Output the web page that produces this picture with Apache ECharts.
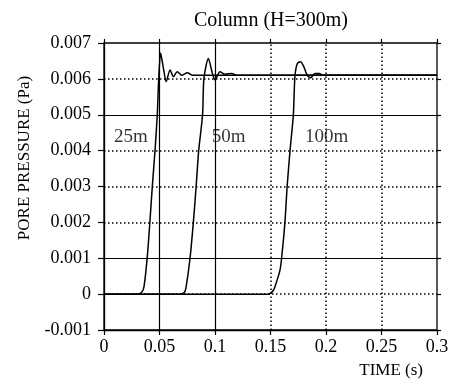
<!DOCTYPE html>
<html>
<head>
<meta charset="utf-8">
<script src="https://cdn.jsdelivr.net/npm/echarts@6/dist/echarts.min.js"></script>
<style>
  html, body { margin: 0; padding: 0; background: #fff; }
  #chart { width: 453px; height: 388px; }
</style>
</head>
<body>
<div id="chart"></div>
<script>
// pore pressure curves at three depths
var t25 = [0, 0.030, 0.034, 0.036, 0.039, 0.0414, 0.0435, 0.046, 0.048, 0.0493, 0.051, 0.0535, 0.056, 0.0595, 0.0625, 0.066, 0.070, 0.075, 0.080, 0.3];
var p25 = [0, 0, 0.00005, 0.0002, 0.00104, 0.00204, 0.00299, 0.00402, 0.005, 0.006, 0.00672, 0.0063, 0.00592, 0.00625, 0.00606, 0.0062, 0.0061, 0.00617, 0.0061, 0.0061];

var t50 = [0, 0.068, 0.0725, 0.074, 0.0775, 0.0805, 0.083, 0.0853, 0.0888, 0.090, 0.094, 0.0976, 0.100, 0.1045, 0.109, 0.115, 0.120, 0.3];
var p50 = [0, 0, 0.00005, 0.0002, 0.001, 0.002, 0.003, 0.004, 0.005, 0.006, 0.00657, 0.00616, 0.00597, 0.0062, 0.00613, 0.00615, 0.0061, 0.0061];

var t100 = [0, 0.148, 0.1525, 0.155, 0.1585, 0.160, 0.163, 0.165, 0.1676, 0.1706, 0.172, 0.1742, 0.1771, 0.180, 0.183, 0.1862, 0.190, 0.194, 0.197, 0.3];
var p100 = [0, 0, 0.0001, 0.0003, 0.00066, 0.001, 0.002, 0.003, 0.004, 0.005, 0.00607, 0.00643, 0.00648, 0.00634, 0.0061, 0.00603, 0.00615, 0.00615, 0.0061, 0.0061];

// curve labels
var labelNames = ['25m', '50m', '100m'];
var labelT = [0.0243, 0.1123, 0.2006];
var labelP = [0.00438, 0.00438, 0.00438];

// grid lines: solid ones vs dotted ones
var xSolid = [0.05, 0.1];
var xDotted = [0.15, 0.2, 0.25];
var ySolid = [0.005, 0.001];
var yDotted = [0.006, 0.004, 0.003, 0.002, 0];

var xMin = 0, xMax = 0.3, yMin = -0.001, yMax = 0.007;

var font = '"Liberation Serif", "Times New Roman", serif';

function zip(t, p) {
    return t.map(function (v, i) { return [v, p[i]]; });
}

var solidLine = { color: '#000', type: 'solid', width: 1.2 };
var dotLine = { color: '#000', type: [1.5, 2.5], width: 1.5 };
var gridLines = [];
function vLine(v, st) { gridLines.push([{ coord: [v, yMin], lineStyle: st }, { coord: [v, yMax] }]); }
function hLine(v, st) { gridLines.push([{ coord: [xMin, v], lineStyle: st }, { coord: [xMax, v] }]); }
xSolid.forEach(function (v) { vLine(v, solidLine); });
xDotted.forEach(function (v) { vLine(v, dotLine); });
ySolid.forEach(function (v) { hLine(v, solidLine); });
yDotted.forEach(function (v) { hLine(v, dotLine); });

var curveStyle = { color: '#000', width: 1.5 };

var option = {
    animation: false,
    backgroundColor: '#fff',
    title: {
        text: 'Column (H=300m)',
        left: 266,
        top: 6,
        textAlign: 'center',
        textStyle: { fontFamily: font, fontSize: 20, fontWeight: 'normal', color: '#000' }
    },
    grid: {
        left: 104, right: 16, top: 43, bottom: 58,
        outerBoundsMode: 'none',
        containLabel: false,
        show: true, borderColor: '#000', borderWidth: 1.3
    },
    xAxis: [{
        type: 'value',
        min: xMin, max: xMax, interval: 0.05,
        axisLine: { onZero: false, lineStyle: { color: '#000', width: 1.3 } },
        axisTick: { length: 5, lineStyle: { color: '#000', width: 1.2 } },
        axisLabel: { fontFamily: font, fontSize: 18, color: '#000', margin: 8 },
        splitLine: { show: false }
    }, {
        type: 'value', position: 'top',
        min: xMin, max: xMax, interval: 0.05,
        axisLine: { show: false, onZero: false },
        axisTick: { length: 4, lineStyle: { color: '#000', width: 1.2 } },
        axisLabel: { show: false },
        splitLine: { show: false }
    }],
    yAxis: [{
        type: 'value',
        min: yMin, max: yMax, interval: 0.001,
        axisLine: { show: true, onZero: false, lineStyle: { color: '#000', width: 1.3 } },
        axisTick: { show: true, length: 6, lineStyle: { color: '#000', width: 1.2 } },
        axisLabel: {
            fontFamily: font, fontSize: 18, color: '#000', margin: 13,
            formatter: function (v) { return Math.abs(v) < 1e-9 ? '0' : v.toFixed(3); }
        },
        splitLine: { show: false }
    }, {
        type: 'value', position: 'right',
        min: yMin, max: yMax, interval: 0.001,
        axisLine: { show: false, onZero: false },
        axisTick: { show: true, length: 4, lineStyle: { color: '#000', width: 1.2 } },
        axisLabel: { show: false },
        splitLine: { show: false }
    }],
    graphic: [{
        type: 'text',
        x: 25, y: 158,
        rotation: Math.PI / 2,
        style: {
            text: 'PORE PRESSURE (Pa)',
            font: '17px ' + font,
            fill: '#000',
            textAlign: 'center',
            textVerticalAlign: 'middle'
        }
    }, {
        type: 'text',
        x: 423, y: 371,
        style: {
            text: 'TIME (s)',
            font: '17px ' + font,
            fill: '#000',
            textAlign: 'right',
            textVerticalAlign: 'middle'
        }
    }],
    series: [{
        name: '25m', type: 'line', data: zip(t25, p25),
        showSymbol: false, smooth: 0.25, lineStyle: curveStyle, z: 3,
        markLine: {
            silent: true,
            symbol: 'none',
            label: { show: false },
            lineStyle: { color: '#000' },
            z: 1,
            data: gridLines
        }
    }, {
        name: '50m', type: 'line', data: zip(t50, p50),
        showSymbol: false, smooth: 0.25, lineStyle: curveStyle, z: 3
    }, {
        name: '100m', type: 'line', data: zip(t100, p100),
        showSymbol: false, smooth: 0.25, lineStyle: curveStyle, z: 3
    }, {
        type: 'scatter',
        symbolSize: 0,
        silent: true,
        z: 4,
        data: labelNames.map(function (n, i) { return { value: [labelT[i], labelP[i]], name: n }; }),
        label: {
            show: true,
            position: 'inside',
            formatter: '{b}',
            fontFamily: font, fontSize: 19, color: '#000'
        }
    }]
};

var chart = echarts.init(document.getElementById('chart'));
chart.setOption(option);
</script>
</body>
</html>
